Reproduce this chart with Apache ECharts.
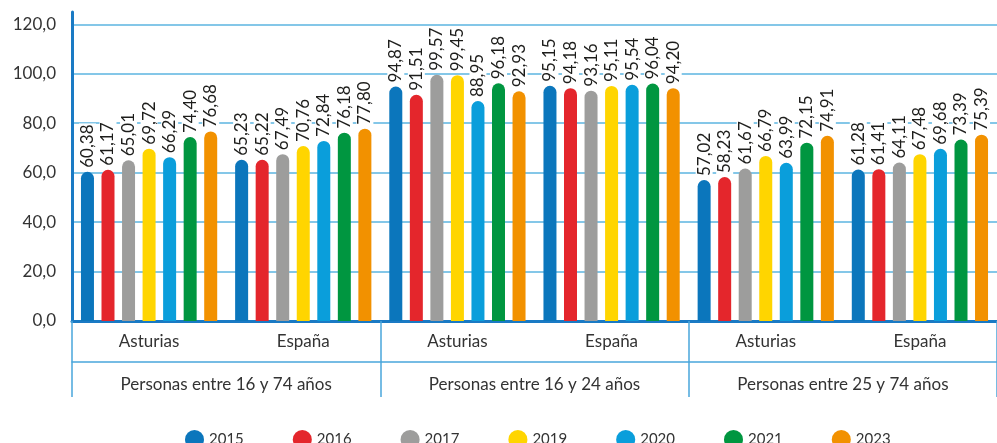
<!DOCTYPE html>
<html>
<head>
<meta charset="utf-8">
<script src="https://cdn.jsdelivr.net/npm/echarts@6/dist/echarts.min.js"></script>
<style>
	html, body { margin: 0; padding: 0; background: #fff; }
	#chart { width: 997px; height: 443px; }
</style>
</head>
<body>
<div id="chart"></div>
<script>
	// categorias (nivel 1 y nivel 2)
	var regions = ['Asturias', 'España', 'Asturias', 'España', 'Asturias', 'España'];
	var groups = ['Personas entre 16 y 74 años', 'Personas entre 16 y 24 años', 'Personas entre 25 y 74 años'];
	var years = ['2015', '2016', '2017', '2019', '2020', '2021', '2023'];
	var colors = ['#0b76bc', '#e4262c', '#9d9d9c', '#ffd500', '#0a9edb', '#009640', '#f29100'];

	// valores por año, en el orden de regions
	var v2015 = [60.38, 65.23, 94.87, 95.15, 57.02, 61.28];
	var v2016 = [61.17, 65.22, 91.51, 94.18, 58.23, 61.41];
	var v2017 = [65.01, 67.49, 99.57, 93.16, 61.67, 64.11];
	var v2019 = [69.72, 70.76, 99.45, 95.11, 66.79, 67.48];
	var v2020 = [66.29, 72.84, 88.95, 95.54, 63.99, 69.68];
	var v2021 = [74.40, 76.18, 96.18, 96.04, 72.15, 73.39];
	var v2023 = [76.68, 77.80, 92.93, 94.20, 74.91, 75.39];
	var values = [v2015, v2016, v2017, v2019, v2020, v2021, v2023];

	var font = 'Lato';
	var myChart = echarts.init(document.getElementById('chart'));

	var series = [];
	for (var i = 0; i < years.length; i++) {
		series.push({
			name: years[i],
			type: 'bar',
			xAxisIndex: 0,
			data: values[i],
			barWidth: 13,
			barGap: '58%',
			itemStyle: { color: colors[i], borderRadius: [7, 7, 0, 0] },
			label: {
				show: true,
				position: 'top',
				rotate: 90,
				align: 'left',
				verticalAlign: 'middle',
				distance: 3,
				fontFamily: font,
				fontSize: 17,
				color: '#1d1d1b',
				backgroundColor: '#fff',
				padding: [0, 1],
				formatter: function (p) {
					return p.value.toFixed(2).replace('.', ',');
				}
			}
		});
	}

	myChart.setOption({
		animation: false,
		color: colors,
		legend: {
			data: years,
			left: 180,
			top: 425,
			itemWidth: 19,
			itemHeight: 19,
			itemGap: 49,
			icon: 'circle',
			textStyle: { fontFamily: font, fontSize: 15, color: '#333' }
		},
		grid: { left: 72, right: 0, top: 12, bottom: 122 },
		xAxis: [{
			type: 'category',
			data: regions,
			axisLine: { lineStyle: { color: '#1a7ac4', width: 3 } },
			axisTick: { show: false },
			axisLabel: { margin: 12, fontFamily: font, fontSize: 17, color: '#333' }
		}, {
			type: 'category',
			data: groups,
			position: 'bottom',
			offset: 41,
			axisLine: { lineStyle: { color: '#4aa6dc', width: 1.5 } },
			axisTick: { show: false },
			axisLabel: { margin: 14, fontFamily: font, fontSize: 17, color: '#333' }
		}, {
			type: 'category',
			data: groups,
			position: 'bottom',
			offset: 0,
			axisLine: { show: false },
			axisTick: { show: true, length: 76, lineStyle: { color: '#4aa6dc', width: 1.5 } },
			axisLabel: { show: false }
		}],
		yAxis: {
			type: 'value',
			min: 0,
			max: 125,
			interval: 20,
			axisLine: { show: true, lineStyle: { color: '#1a7ac4', width: 3 } },
			axisTick: { show: false },
			splitLine: { showMaxLine: false, lineStyle: { color: '#5bb4e0', width: 1.5 } },
			axisLabel: {
				showMaxLabel: false,
				margin: 16,
				fontFamily: font,
				fontSize: 17,
				color: '#333',
				formatter: function (v) { return v.toFixed(1).replace('.', ','); }
			}
		},
		series: series
	});
</script>
</body>
</html>
